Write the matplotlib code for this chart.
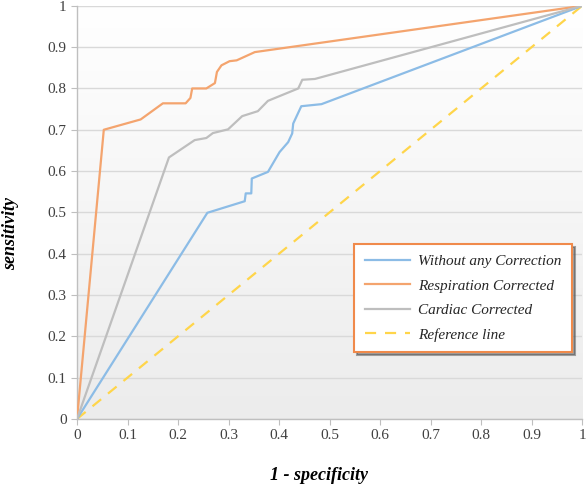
import numpy as np
import matplotlib.pyplot as plt
from matplotlib.colors import LinearSegmentedColormap

# ROC curve data
fpr_none = [0, 0.258, 0.332, 0.334, 0.345, 0.346, 0.378, 0.401, 0.418, 0.426, 0.428, 0.444, 0.484, 1]
tpr_none = [0, 0.499, 0.527, 0.546, 0.546, 0.582, 0.598, 0.646, 0.670, 0.691, 0.715, 0.757, 0.762, 1]

fpr_resp = [0, 0.053, 0.126, 0.170, 0.215, 0.2245, 0.228, 0.256, 0.273, 0.277, 0.286, 0.302, 0.316, 0.352, 1]
tpr_resp = [0, 0.700, 0.725, 0.764, 0.764, 0.777, 0.800, 0.800, 0.813, 0.840, 0.856, 0.866, 0.868, 0.888, 1]

fpr_card = [0, 0.182, 0.233, 0.256, 0.269, 0.299, 0.327, 0.358, 0.378, 0.438, 0.446, 0.471, 1]
tpr_card = [0, 0.633, 0.675, 0.680, 0.692, 0.701, 0.733, 0.745, 0.770, 0.800, 0.821, 0.823, 1]

ref_x = [0, 1]
ref_y = [0, 1]

labels = ['Without any Correction', 'Respiration Corrected', 'Cardiac Corrected', 'Reference line']
ticks = np.arange(0, 1.01, 0.1)
tick_labels = ['0'] + ['%.1f' % t for t in ticks[1:-1]] + ['1']

serif = 'Liberation Serif'

fig = plt.figure(figsize=(5.88, 4.86), dpi=100)
ax = fig.add_axes([0.131, 0.138, 0.859, 0.850])

# gradient background of the plot area
cmap = LinearSegmentedColormap.from_list('bg', ['#ECECEC', '#FFFFFF'])
grad = np.linspace(0, 1, 256).reshape(-1, 1)
ax.imshow(grad, extent=[0, 1, 0, 1], origin='lower', aspect='auto', cmap=cmap, zorder=0)

ax.plot(fpr_none, tpr_none, color='#8CBCE6', lw=1.6, label=labels[0], zorder=3)
ax.plot(fpr_resp, tpr_resp, color='#F4A46E', lw=1.6, label=labels[1], zorder=3)
ax.plot(fpr_card, tpr_card, color='#BEBEBE', lw=1.6, label=labels[2], zorder=3)
ax.plot(ref_x, ref_y, color='#FFD54A', lw=1.6, ls=(0, (5, 4)), label=labels[3], zorder=2)

ax.set_xlim(0, 1)
ax.set_ylim(0, 1)
ax.set_xticks(ticks)
ax.set_xticklabels(tick_labels)
ax.set_yticks(ticks)
ax.set_yticklabels(tick_labels)
ax.yaxis.grid(True, color='#D9D9D9', lw=1)
ax.set_axisbelow(True)
for s in ['top', 'right']:
    ax.spines[s].set_visible(False)
for s in ['left', 'bottom']:
    ax.spines[s].set_color('#BFBFBF')
    ax.spines[s].set_linewidth(1)
ax.tick_params(colors='#BFBFBF', length=4, labelcolor='#404040', labelsize=11)
for t in ax.get_xticklabels() + ax.get_yticklabels():
    t.set_family(serif)

ax.set_xlabel('1 - specificity', family=serif, style='italic', weight='bold', fontsize=13, va='center')
ax.set_ylabel('sensitivity', family=serif, style='italic', weight='bold', fontsize=13)
ax.xaxis.set_label_coords(0.48, -0.138)
ax.yaxis.set_label_coords(-0.115, 0.45)

leg = ax.legend(loc='upper left', bbox_to_anchor=(0.533, 0.442), frameon=True, fancybox=False,
                shadow=True, prop={'family': serif, 'style': 'italic', 'size': 11},
                handlelength=3.0, labelspacing=0.7, borderpad=0.7, handletextpad=0.5)
leg.get_frame().set_edgecolor('#F08A4B')
leg.get_frame().set_linewidth(1.5)
for t in leg.get_texts():
    t.set_color('#262626')

fig.savefig('out.png', dpi=100)
